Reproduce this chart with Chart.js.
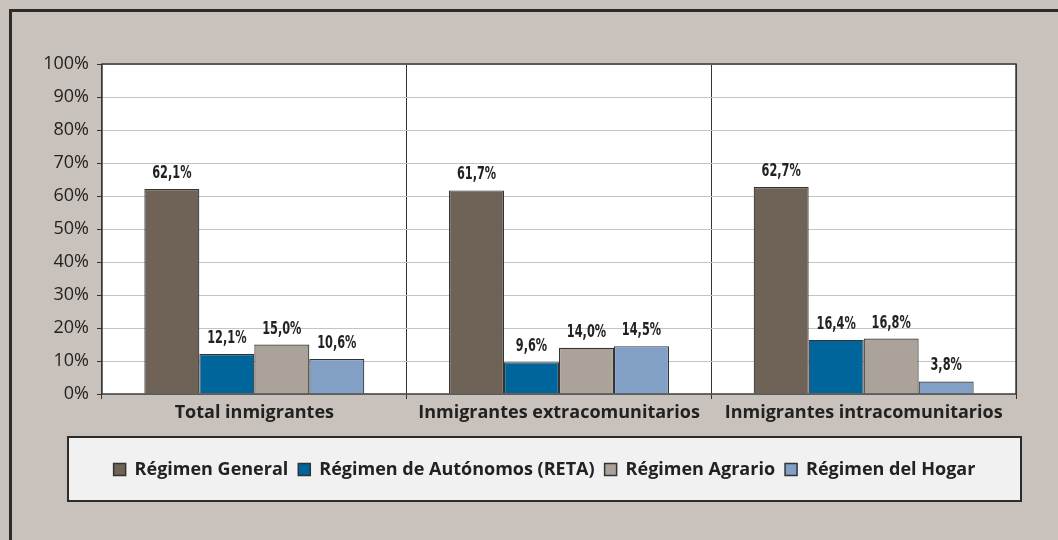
<!DOCTYPE html>
<html>
<head>
<meta charset="utf-8">
<script src="https://cdn.jsdelivr.net/npm/chart.js@4.4.1/dist/chart.umd.min.js"></script>
<style>
  html, body { margin: 0; padding: 0; background: #c9c2bc; }
  #wrap { width: 1058px; height: 540px; position: relative; }
</style>
</head>
<body>
<div id="wrap"><canvas id="c" width="1058" height="540"></canvas></div>
<script>
const categories = ['Total inmigrantes', 'Inmigrantes extracomunitarios', 'Inmigrantes intracomunitarios'];
const seriesNames = ['Régimen General', 'Régimen de Autónomos (RETA)', 'Régimen Agrario', 'Régimen del Hogar'];
const regimenGeneral = [62.1, 61.7, 62.7];
const regimenAutonomos = [12.1, 9.6, 16.4];
const regimenAgrario = [15.0, 14.0, 16.8];
const regimenHogar = [10.6, 14.5, 3.8];
const yTicks = [0, 10, 20, 30, 40, 50, 60, 70, 80, 90, 100];

const colors = ['#6f6357', '#00659b', '#aba39a', '#829fc6'];
const seriesValues = [regimenGeneral, regimenAutonomos, regimenAgrario, regimenHogar];

const fmt = v => v.toFixed(1).replace('.', ',') + '%';
const TEXT = '#222222';
const FONT = '"Open Sans", Lato, sans-serif';
const NARROW = '"DejaVu Sans Condensed", "DejaVu Sans", sans-serif';

const framePlugin = {
  id: 'frame',
  beforeDraw(chart) {
    const ctx = chart.ctx;
    const a = chart.chartArea;
    ctx.save();
    ctx.fillStyle = '#c9c2bc';
    ctx.fillRect(0, 0, chart.width, chart.height);
    ctx.strokeStyle = '#2b2b2b';
    ctx.lineWidth = 3;
    ctx.strokeRect(10.5, 10.5, chart.width + 20, chart.height + 20);
    ctx.fillStyle = '#ffffff';
    ctx.fillRect(a.left, a.top, a.right - a.left, a.bottom - a.top);
    ctx.restore();
  },
  afterDatasetsDraw(chart) {
    const ctx = chart.ctx;
    const a = chart.chartArea;
    ctx.save();
    ctx.font = 'bold 17px ' + NARROW;
    ctx.fillStyle = TEXT;
    ctx.textAlign = 'center';
    ctx.textBaseline = 'alphabetic';
    const sx = 0.74;
    chart.data.datasets.forEach((ds, i) => {
      const meta = chart.getDatasetMeta(i);
      meta.data.forEach((bar, j) => {
        ctx.save();
        ctx.translate(bar.x, bar.y - 11);
        ctx.scale(sx, 1);
        ctx.fillText(fmt(ds.data[j]), 0, 0);
        ctx.restore();
      });
    });
    ctx.strokeStyle = '#3a3a3a';
    ctx.lineWidth = 1.5;
    ctx.strokeRect(a.left, a.top, a.right - a.left, a.bottom - a.top);
    ctx.restore();
  },
  afterDraw(chart) {
    const ctx = chart.ctx;
    ctx.save();
    const bx = 68, by = 437, bw = 953, bh = 64;
    ctx.fillStyle = '#f0f1f0';
    ctx.fillRect(bx, by, bw, bh);
    ctx.strokeStyle = '#2b2b2b';
    ctx.lineWidth = 2;
    ctx.strokeRect(bx, by, bw, bh);
    ctx.font = 'bold 18px ' + FONT;
    const sq = 12, gapIn = 9, gapOut = 10;
    const items = chart.data.datasets.map(ds => ({ label: ds.label, color: ds.backgroundColor, w: ctx.measureText(ds.label).width }));
    let total = 0;
    items.forEach((it, i) => { total += sq + gapIn + it.w + (i < items.length - 1 ? gapOut : 0); });
    let x = bx + bw / 2 - total / 2;
    const cy = by + bh / 2 + 0.5;
    ctx.textBaseline = 'middle';
    ctx.textAlign = 'left';
    items.forEach(it => {
      ctx.fillStyle = it.color;
      ctx.fillRect(x, cy - sq / 2, sq, sq);
      ctx.strokeStyle = '#333';
      ctx.lineWidth = 1.5;
      ctx.strokeRect(x, cy - sq / 2, sq, sq);
      x += sq + gapIn;
      ctx.fillStyle = TEXT;
      ctx.fillText(it.label, x, cy);
      x += it.w + gapOut;
    });
    ctx.restore();
  }
};

new Chart(document.getElementById('c'), {
  type: 'bar',
  data: {
    labels: categories,
    datasets: seriesNames.map((name, i) => ({
      label: name,
      data: seriesValues[i],
      backgroundColor: colors[i],
      borderColor: '#333333',
      borderWidth: 1.2,
      categoryPercentage: 0.722,
      barPercentage: 1.0
    }))
  },
  options: {
    responsive: false,
    animation: false,
    devicePixelRatio: 1,
    layout: { padding: { left: 0, top: 64, right: 42, bottom: 106 } },
    plugins: { legend: { display: false }, tooltip: { enabled: false } },
    scales: {
      x: {
        afterFit(s) { s.height = 40; },
        grid: { color: '#333333', lineWidth: 1, tickLength: 5, offset: true, drawOnChartArea: true },
        border: { display: false },
        ticks: { color: TEXT, font: { family: FONT, size: 18, weight: 'bold' }, padding: 3, maxRotation: 0 }
      },
      y: {
        min: 0, max: 100,
        afterFit(s) { s.width = 102; },
        afterBuildTicks(s) { s.ticks = yTicks.map(v => ({ value: v })); },
        grid: { color: '#c4c4c4', lineWidth: 1, tickLength: 5, tickColor: '#333333' },
        border: { display: false },
        ticks: { color: TEXT, font: { family: FONT, size: 18 }, padding: 8, callback: v => v + '%' }
      }
    }
  },
  plugins: [framePlugin]
});
</script>
</body>
</html>
